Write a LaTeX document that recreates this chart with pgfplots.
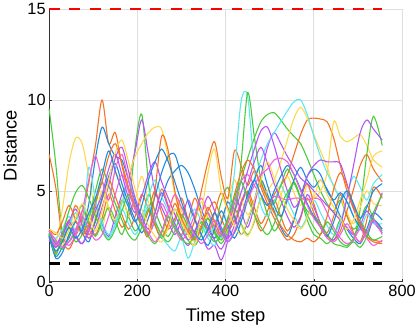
\documentclass[border=0pt]{standalone}
\usepackage{fontspec}
\setmainfont{Liberation Sans}
\usepackage{pgfplots}
\pgfplotsset{compat=1.18}

\definecolor{blu}{RGB}{33,137,224}
\definecolor{ora}{RGB}{245,115,35}
\definecolor{yel}{RGB}{255,217,77}
\definecolor{pur}{RGB}{182,85,245}
\definecolor{grn}{RGB}{72,204,58}
\definecolor{cya}{RGB}{90,232,245}
\definecolor{mag}{RGB}{242,96,224}

\pgfplotsset{ser/.style={smooth, line width=1.1pt, no marks, #1}}

\begin{document}
\begin{tikzpicture}
\begin{axis}[
    scale only axis,
    width=357pt, height=276pt,
    xmin=0, xmax=800, ymin=0, ymax=15,
    xtick={0,200,400,600,800}, ytick={0,5,10,15},
    axis x line*=bottom, axis y line*=left,
    axis line style={black!80, line width=0.8pt, -},
    grid=major,
    grid style={black!13, line width=0.8pt},
    tick align=inside, major tick length=3pt,
    tick style={black!80, line width=0.6pt},
    clip=false,
    xlabel={Time step}, ylabel={Distance},
    tick label style={font=\fontsize{16.5}{19}\selectfont},
    label style={font=\fontsize{18.5}{21}\selectfont},
    /pgf/number format/assume math mode=true,
    xlabel style={yshift=-5pt},
    ylabel style={yshift=4pt},
]
% s1 green
\addplot[ser=grn] coordinates {(0,9.5)(15,6.5)(30,2.6)(45,2.2)(60,2.8)(75,3.5)(90,2.9)(105,4.2)(120,5.5)(135,4.0)(150,3.2)(165,4.5)(180,3.6)(195,2.8)(210,3.4)(225,4.8)(240,3.9)(255,3.0)(270,2.5)(285,3.3)(300,4.1)(315,3.2)(330,2.4)(345,2.9)(360,3.8)(375,3.1)(390,4.4)(405,5.2)(420,4.0)(435,5.6)(450,6.8)(465,7.9)(480,8.8)(495,9.2)(510,9.3)(525,8.9)(540,8.4)(555,8.0)(570,7.6)(585,6.8)(600,5.9)(615,5.0)(630,4.3)(645,3.9)(660,4.5)(675,3.6)(690,2.9)(705,3.4)(720,4.2)(735,3.5)(755,2.8)};
% s2 orange
\addplot[ser=ora] coordinates {(0,7.0)(15,5.2)(30,2.4)(45,1.8)(60,2.6)(75,3.9)(90,3.2)(105,2.6)(120,3.5)(135,4.8)(150,3.9)(165,3.0)(180,3.6)(195,4.4)(210,3.3)(225,2.7)(240,3.8)(255,5.1)(270,4.2)(285,3.1)(300,2.6)(315,3.4)(330,4.6)(345,3.7)(360,2.9)(375,3.8)(390,4.9)(405,4.1)(420,3.3)(435,4.2)(450,5.0)(465,4.1)(480,3.2)(495,3.9)(510,4.8)(525,5.3)(540,5.9)(555,7.0)(570,8.1)(585,8.9)(600,9.0)(615,8.95)(630,8.8)(645,7.9)(660,6.4)(675,5.0)(690,4.0)(705,3.1)(720,2.5)(735,2.3)(755,2.2)};
% s3 yellow
\addplot[ser=yel] coordinates {(0,2.6)(15,2.2)(30,4.0)(45,6.5)(60,7.9)(75,7.6)(90,5.8)(105,3.8)(120,3.0)(135,4.6)(150,6.0)(165,5.0)(180,3.6)(195,4.5)(210,5.8)(225,4.4)(240,3.3)(255,2.7)(270,3.6)(285,4.8)(300,3.9)(315,2.8)(330,3.3)(345,4.4)(360,3.5)(375,2.6)(390,3.4)(405,4.5)(420,5.6)(435,4.6)(450,3.7)(465,4.3)(480,5.5)(495,4.6)(510,3.8)(525,4.7)(540,5.8)(555,4.9)(570,4.2)(585,5.3)(600,4.6)(615,5.0)(630,6.0)(645,8.8)(660,8.0)(675,7.7)(690,7.9)(705,8.1)(720,7.5)(735,6.7)(755,6.3)};
% s4 orange
\addplot[ser=ora] coordinates {(0,2.7)(15,1.9)(30,2.5)(45,3.4)(60,2.6)(75,3.5)(90,5.5)(105,7.5)(120,10.0)(135,7.6)(150,8.2)(165,6.4)(180,5.0)(195,4.0)(210,3.1)(225,3.9)(240,5.0)(255,3.8)(270,2.9)(285,3.5)(300,4.6)(315,3.4)(330,2.6)(345,3.1)(360,3.9)(375,4.4)(390,3.5)(405,2.8)(420,3.4)(435,4.4)(450,4.9)(465,3.7)(480,2.8)(495,3.4)(510,4.5)(525,3.6)(540,2.8)(555,3.5)(570,4.6)(585,5.4)(600,4.3)(615,3.2)(630,2.7)(645,3.6)(660,4.8)(675,3.7)(690,2.7)(705,2.2)(720,3.4)(735,5.2)(755,4.6)};
% s5 blue
\addplot[ser=blu] coordinates {(0,2.5)(15,1.4)(30,1.9)(45,2.4)(60,3.3)(75,2.8)(90,4.3)(105,6.8)(120,8.5)(135,7.6)(150,6.9)(165,6.7)(180,5.6)(195,4.4)(210,3.3)(225,2.6)(240,3.4)(255,4.6)(270,5.6)(285,6.1)(300,6.4)(315,6.0)(330,5.1)(345,4.0)(360,3.1)(375,2.4)(390,3.2)(405,4.4)(420,3.6)(435,2.6)(450,3.3)(465,4.5)(480,5.6)(495,4.8)(510,3.9)(525,3.0)(540,2.5)(555,3.4)(570,4.7)(585,5.8)(600,6.2)(615,5.9)(630,5.0)(645,4.4)(660,3.6)(675,2.9)(690,2.4)(705,2.1)(720,2.9)(735,3.8)(755,3.4)};
% s6 green
\addplot[ser=grn] coordinates {(0,2.6)(15,2.2)(30,1.8)(45,2.5)(60,3.4)(75,4.2)(90,3.2)(105,2.5)(120,3.3)(135,4.1)(150,3.4)(165,2.6)(180,4.0)(195,7.4)(210,9.2)(225,5.5)(240,3.2)(255,2.4)(270,3.0)(285,4.0)(300,3.1)(315,2.3)(330,2.0)(345,2.6)(360,3.5)(375,2.7)(390,2.1)(405,2.8)(420,4.0)(435,3.2)(450,2.6)(465,3.3)(480,4.6)(495,3.7)(510,2.8)(525,3.4)(540,4.7)(555,5.5)(570,4.6)(585,3.4)(600,2.6)(615,2.4)(630,2.1)(645,2.5)(660,3.4)(675,2.6)(690,2.3)(705,4.0)(720,7.0)(735,9.1)(755,7.5)};
% s7 purple
\addplot[ser=pur] coordinates {(0,2.4)(15,2.0)(30,2.7)(45,3.3)(60,2.5)(75,2.1)(90,3.0)(105,4.1)(120,3.2)(135,2.5)(150,3.6)(165,4.8)(180,5.6)(195,7.2)(210,8.9)(225,7.0)(240,5.0)(255,4.1)(270,3.3)(285,2.6)(300,3.4)(315,4.5)(330,3.5)(345,2.6)(360,1.8)(375,2.0)(390,1.2)(405,2.3)(420,4.6)(435,3.9)(450,3.0)(465,4.2)(480,5.8)(495,7.4)(510,8.2)(525,7.6)(540,6.9)(555,6.3)(570,5.7)(585,5.4)(600,5.0)(615,4.6)(630,4.2)(645,3.8)(660,3.4)(675,3.0)(690,2.6)(705,3.1)(720,3.9)(735,3.3)(755,2.7)};
% s8 yellow
\addplot[ser=yel] coordinates {(0,2.8)(15,2.3)(30,2.0)(45,2.9)(60,3.8)(75,3.0)(90,2.4)(105,3.6)(120,5.0)(135,4.1)(150,3.4)(165,4.4)(180,5.8)(195,6.9)(210,7.6)(225,8.2)(240,8.5)(255,8.4)(270,6.8)(285,4.8)(300,3.6)(315,2.8)(330,2.2)(345,2.9)(360,3.7)(375,2.9)(390,2.3)(405,2.9)(420,3.9)(435,3.1)(450,2.5)(465,3.4)(480,4.6)(495,5.0)(510,5.6)(525,6.6)(540,7.8)(555,9.0)(570,9.6)(585,9.0)(600,8.1)(615,7.2)(630,6.3)(645,5.2)(660,4.6)(675,3.8)(690,3.2)(705,4.1)(720,5.0)(735,4.3)(755,4.2)};
% s9 orange
\addplot[ser=ora] coordinates {(0,2.5)(15,1.6)(30,2.3)(45,3.1)(60,4.2)(75,3.4)(90,2.6)(105,3.3)(120,4.5)(135,5.6)(150,4.7)(165,3.7)(180,2.9)(195,3.6)(210,4.8)(225,4.0)(240,3.1)(255,2.5)(270,3.2)(285,4.3)(300,3.4)(315,2.6)(330,3.4)(345,5.0)(360,6.6)(375,7.7)(390,5.8)(405,4.6)(420,7.2)(435,6.4)(450,5.3)(465,6.1)(480,5.2)(495,4.3)(510,3.5)(525,2.8)(540,2.3)(555,2.6)(570,3.5)(585,4.6)(600,3.8)(615,3.0)(630,2.5)(645,2.3)(660,2.8)(675,3.9)(690,5.1)(705,6.4)(720,7.0)(735,6.2)(755,5.5)};
% s10 cyan
\addplot[ser=cya] coordinates {(0,2.7)(15,2.4)(30,2.9)(45,3.6)(60,2.8)(75,3.0)(90,3.5)(105,4.3)(120,3.0)(135,2.4)(150,3.1)(165,4.0)(180,3.2)(195,2.6)(210,3.3)(225,4.2)(240,3.4)(255,2.5)(270,2.0)(285,1.7)(300,2.4)(315,1.3)(330,2.2)(345,3.0)(360,2.4)(375,2.0)(390,2.8)(405,3.5)(420,6.0)(435,9.9)(450,10.2)(465,6.2)(480,4.2)(495,3.6)(510,4.4)(525,5.3)(540,4.5)(555,3.7)(570,3.0)(585,3.6)(600,4.5)(615,3.8)(630,3.1)(645,2.6)(660,3.3)(675,4.4)(690,3.6)(705,2.9)(720,3.7)(735,3.2)(755,3.2)};
% s11 green
\addplot[ser=grn] coordinates {(0,2.6)(15,1.7)(30,2.3)(45,3.0)(60,2.2)(75,2.6)(90,3.5)(105,5.0)(120,6.2)(135,5.3)(150,4.3)(165,3.4)(180,2.6)(195,2.3)(210,3.0)(225,4.0)(240,3.3)(255,2.6)(270,2.2)(285,2.8)(300,3.7)(315,3.0)(330,2.4)(345,2.9)(360,3.5)(375,2.8)(390,2.3)(405,3.0)(420,3.8)(435,6.5)(450,10.4)(465,8.0)(480,5.6)(495,4.6)(510,4.3)(525,5.3)(540,6.2)(555,5.5)(570,4.6)(585,3.7)(600,3.0)(615,2.6)(630,3.3)(645,2.8)(660,2.2)(675,2.0)(690,2.4)(705,3.3)(720,2.7)(735,2.3)(755,2.5)};
% s12 cyan
\addplot[ser=cya] coordinates {(0,2.6)(15,2.0)(30,2.6)(45,3.2)(60,3.8)(75,3.0)(90,6.3)(105,4.5)(120,3.3)(135,2.6)(150,3.2)(165,4.3)(180,5.5)(195,4.6)(210,3.7)(225,4.7)(240,5.6)(255,4.7)(270,3.9)(285,3.1)(300,2.5)(315,3.1)(330,4.0)(345,3.3)(360,2.5)(375,3.0)(390,2.4)(405,3.5)(420,4.6)(435,5.5)(450,4.6)(465,5.6)(480,6.7)(495,7.6)(510,8.2)(525,8.8)(540,9.4)(555,9.9)(570,10.0)(585,9.2)(600,8.0)(615,6.9)(630,6.0)(645,5.3)(660,4.6)(675,4.9)(690,5.8)(705,5.2)(720,4.5)(735,5.4)(755,5.9)};
% s13 purple
\addplot[ser=pur] coordinates {(0,2.3)(15,1.9)(30,2.5)(45,3.3)(60,2.6)(75,2.1)(90,2.8)(105,3.9)(120,4.8)(135,6.2)(150,7.0)(165,5.9)(180,4.6)(195,3.8)(210,4.7)(225,5.9)(240,6.6)(255,5.5)(270,4.6)(285,3.7)(300,2.9)(315,2.3)(330,2.8)(345,3.7)(360,4.7)(375,3.9)(390,3.0)(405,2.4)(420,3.1)(435,4.3)(450,5.4)(465,6.6)(480,7.4)(495,6.5)(510,5.4)(525,4.5)(540,3.6)(555,3.0)(570,3.6)(585,4.8)(600,4.1)(615,3.2)(630,2.6)(645,2.3)(660,3.1)(675,4.6)(690,6.4)(705,8.2)(720,8.9)(735,8.4)(755,7.8)};
% s14 blue
\addplot[ser=blu] coordinates {(0,2.6)(15,1.3)(30,1.6)(45,2.6)(60,3.3)(75,2.7)(90,2.2)(105,3.4)(120,4.6)(135,5.8)(150,6.5)(165,5.4)(180,4.3)(195,3.4)(210,2.7)(225,3.5)(240,4.7)(255,6.0)(270,6.9)(285,7.0)(300,5.8)(315,4.4)(330,3.4)(345,2.6)(360,2.0)(375,2.9)(390,3.9)(405,3.1)(420,2.4)(435,3.3)(450,4.5)(465,5.6)(480,6.4)(495,5.3)(510,4.2)(525,3.6)(540,4.5)(555,5.6)(570,6.3)(585,5.6)(600,5.2)(615,5.6)(630,5.1)(645,4.5)(660,4.9)(675,4.4)(690,3.6)(705,3.0)(720,2.5)(735,3.4)(755,2.9)};
% s15 magenta
\addplot[ser=mag] coordinates {(0,2.5)(15,2.0)(30,2.4)(45,2.0)(60,2.6)(75,3.9)(90,5.6)(105,6.9)(120,5.6)(135,4.5)(150,6.2)(165,7.0)(180,5.6)(195,4.2)(210,3.3)(225,2.6)(240,3.4)(255,4.3)(270,3.6)(285,2.9)(300,2.3)(315,2.8)(330,3.7)(345,4.6)(360,3.8)(375,3.0)(390,2.5)(405,3.2)(420,4.3)(435,5.5)(450,5.9)(465,5.3)(480,4.8)(495,4.2)(510,4.7)(525,4.6)(540,4.5)(555,4.6)(570,4.6)(585,4.5)(600,4.6)(615,4.5)(630,3.8)(645,3.0)(660,2.4)(675,2.1)(690,2.3)(705,2.9)(720,2.4)(735,2.0)(755,2.3)};
% s16 purple
\addplot[ser=pur] coordinates {(0,2.8)(15,2.1)(30,2.6)(45,3.3)(60,4.0)(75,3.1)(90,2.4)(105,3.0)(120,4.1)(135,5.3)(150,6.8)(165,7.4)(180,6.1)(195,4.6)(210,3.6)(225,2.9)(240,3.8)(255,4.9)(270,4.1)(285,3.2)(300,2.5)(315,2.0)(330,2.7)(345,3.5)(360,2.9)(375,2.3)(390,1.8)(405,2.6)(420,3.8)(435,4.9)(450,6.1)(465,7.3)(480,8.3)(495,8.5)(510,7.5)(525,6.2)(540,5.0)(555,4.1)(570,4.6)(585,5.8)(600,6.4)(615,6.7)(630,6.6)(645,6.6)(660,6.5)(675,5.4)(690,4.1)(705,3.3)(720,2.7)(735,3.6)(755,4.9)};
% s17 orange
\addplot[ser=ora] coordinates {(0,2.9)(15,2.6)(30,3.3)(45,4.2)(60,3.4)(75,2.6)(90,3.1)(105,4.4)(120,5.5)(135,6.9)(150,7.6)(165,6.5)(180,5.2)(195,4.1)(210,3.2)(225,2.5)(240,5.0)(255,8.0)(270,7.2)(285,5.0)(300,3.5)(315,2.8)(330,2.3)(345,3.0)(360,4.1)(375,3.3)(390,2.6)(405,3.4)(420,4.8)(435,6.0)(450,6.7)(465,6.2)(480,5.4)(495,4.6)(510,3.8)(525,3.1)(540,2.6)(555,2.3)(570,2.2)(585,2.4)(600,2.2)(615,2.6)(630,3.6)(645,5.1)(660,6.0)(675,5.3)(690,4.2)(705,3.2)(720,2.5)(735,2.2)(755,2.1)};
% s18 green
\addplot[ser=grn] coordinates {(0,2.7)(15,1.5)(30,2.6)(45,3.9)(60,4.9)(75,5.3)(90,4.6)(105,3.6)(120,2.8)(135,2.3)(150,2.9)(165,3.9)(180,4.8)(195,4.0)(210,3.1)(225,2.5)(240,2.1)(255,2.7)(270,3.6)(285,3.0)(300,2.4)(315,2.1)(330,2.5)(345,3.3)(360,2.7)(375,2.2)(390,2.6)(405,3.5)(420,4.6)(435,5.5)(450,4.6)(465,3.7)(480,3.0)(495,2.6)(510,3.2)(525,4.2)(540,4.9)(555,5.4)(570,4.6)(585,3.9)(600,3.6)(615,3.2)(630,2.6)(645,2.1)(660,2.0)(675,1.9)(690,2.2)(705,1.9)(720,2.5)(735,3.8)(755,4.8)};
% s19 yellow
\addplot[ser=yel] coordinates {(0,2.9)(15,2.7)(30,2.4)(45,2.8)(60,3.5)(75,4.3)(90,3.6)(105,2.8)(120,3.9)(135,5.6)(150,7.1)(165,7.8)(180,6.6)(195,5.1)(210,4.0)(225,3.1)(240,2.5)(255,2.2)(270,3.0)(285,4.0)(300,3.3)(315,2.6)(330,2.0)(345,3.8)(360,6.0)(375,7.3)(390,5.0)(405,3.9)(420,3.1)(435,2.6)(450,3.4)(465,4.5)(480,5.6)(495,6.6)(510,5.7)(525,4.8)(540,4.0)(555,3.4)(570,2.9)(585,3.5)(600,4.6)(615,5.6)(630,4.8)(645,4.1)(660,3.5)(675,2.9)(690,3.4)(705,4.5)(720,5.6)(735,6.9)(755,7.2)};
% s20 blue
\addplot[ser=blu] coordinates {(0,2.5)(15,1.7)(30,2.2)(45,3.0)(60,2.4)(75,2.9)(90,3.8)(105,4.6)(120,5.9)(135,7.2)(150,6.1)(165,5.0)(180,4.1)(195,3.3)(210,4.2)(225,5.6)(240,6.6)(255,7.3)(270,6.6)(285,5.5)(300,4.4)(315,3.4)(330,2.7)(345,2.3)(360,2.9)(375,3.8)(390,2.8)(405,2.2)(420,2.7)(435,3.6)(450,4.8)(465,5.6)(480,4.8)(495,4.2)(510,5.0)(525,5.8)(540,6.4)(555,5.9)(570,5.1)(585,4.3)(600,3.6)(615,3.0)(630,2.5)(645,3.3)(660,4.4)(675,5.0)(690,4.3)(705,3.5)(720,4.1)(735,5.0)(755,5.4)};
% s21 magenta
\addplot[ser=mag] coordinates {(0,2.8)(15,2.3)(30,1.9)(45,2.2)(60,2.9)(75,3.6)(90,2.9)(105,2.3)(120,2.6)(135,3.6)(150,4.8)(165,5.9)(180,5.0)(195,4.0)(210,3.3)(225,2.7)(240,2.2)(255,2.8)(270,3.9)(285,4.8)(300,4.1)(315,3.3)(330,2.6)(345,2.1)(360,2.6)(375,3.4)(390,2.7)(405,2.2)(420,2.8)(435,3.7)(450,4.5)(465,5.3)(480,5.9)(495,6.2)(510,6.7)(525,6.8)(540,6.6)(555,5.9)(570,5.0)(585,4.2)(600,3.5)(615,3.0)(630,2.4)(645,2.2)(660,2.6)(675,3.2)(690,2.6)(705,2.2)(720,2.7)(735,3.4)(755,2.6)};
% limits
\addplot[red, line width=2.6pt, dash pattern=on 11pt off 9.5pt] coordinates {(0,15)(755,15)};
\addplot[black, line width=2.6pt, dash pattern=on 11pt off 9.5pt] coordinates {(0,1)(755,1)};
\end{axis}
\end{tikzpicture}
\end{document}
